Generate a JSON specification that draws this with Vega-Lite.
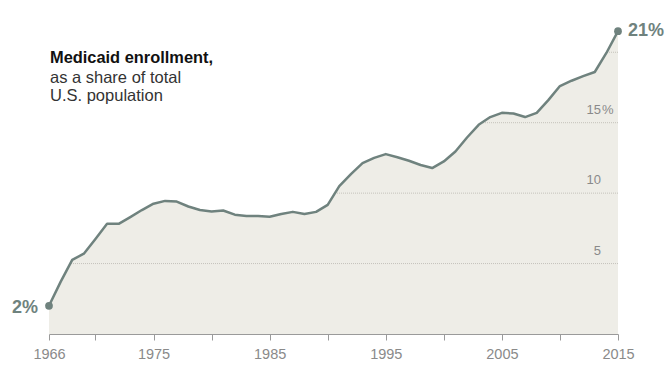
{
  "$schema": "https://vega.github.io/schema/vega-lite/v6.json",
  "width": 569,
  "height": 324,
  "autosize": "none",
  "padding": {"left": 49, "top": 10, "right": 54, "bottom": 35},
  "background": "white",
  "config": {"view": {"stroke": null}, "font": "Liberation Sans"},
  "datasets": {
    "enroll": [
      {"year": 1966, "value": 2.0}, {"year": 1967, "value": 3.7}, {"year": 1968, "value": 5.26},
      {"year": 1969, "value": 5.7}, {"year": 1970, "value": 6.75}, {"year": 1971, "value": 7.82},
      {"year": 1972, "value": 7.82}, {"year": 1973, "value": 8.3}, {"year": 1974, "value": 8.8},
      {"year": 1975, "value": 9.25}, {"year": 1976, "value": 9.45}, {"year": 1977, "value": 9.4},
      {"year": 1978, "value": 9.05}, {"year": 1979, "value": 8.8}, {"year": 1980, "value": 8.7},
      {"year": 1981, "value": 8.77}, {"year": 1982, "value": 8.47}, {"year": 1983, "value": 8.38},
      {"year": 1984, "value": 8.38}, {"year": 1985, "value": 8.32}, {"year": 1986, "value": 8.52},
      {"year": 1987, "value": 8.67}, {"year": 1988, "value": 8.52}, {"year": 1989, "value": 8.67},
      {"year": 1990, "value": 9.17}, {"year": 1991, "value": 10.5}, {"year": 1992, "value": 11.35},
      {"year": 1993, "value": 12.13}, {"year": 1994, "value": 12.5}, {"year": 1995, "value": 12.77},
      {"year": 1996, "value": 12.55}, {"year": 1997, "value": 12.3}, {"year": 1998, "value": 12.0},
      {"year": 1999, "value": 11.78}, {"year": 2000, "value": 12.25}, {"year": 2001, "value": 12.96},
      {"year": 2002, "value": 13.95}, {"year": 2003, "value": 14.85}, {"year": 2004, "value": 15.4},
      {"year": 2005, "value": 15.7}, {"year": 2006, "value": 15.65}, {"year": 2007, "value": 15.4},
      {"year": 2008, "value": 15.7}, {"year": 2009, "value": 16.6}, {"year": 2010, "value": 17.6},
      {"year": 2011, "value": 17.98}, {"year": 2012, "value": 18.3}, {"year": 2013, "value": 18.6},
      {"year": 2014, "value": 19.95}, {"year": 2015, "value": 21.5}
    ],
    "grid": [
      {"v": 5, "label": "5", "unit": ""},
      {"v": 10, "label": "10", "unit": ""},
      {"v": 15, "label": "15", "unit": "%"},
      {"v": 20, "label": "", "unit": ""}
    ],
    "ends": [
      {"year": 1966, "value": 2.0, "label": "2%"},
      {"year": 2015, "value": 21.5, "label": "21%"}
    ],
    "notes": [
      {"kind": "title", "year": 1966, "value": 19.22, "text": "Medicaid enrollment,"},
      {"kind": "sub", "year": 1966, "value": 17.8, "text": "as a share of total"},
      {"kind": "sub", "year": 1966, "value": 16.52, "text": "U.S. population"}
    ]
  },
  "layer": [
    {
      "data": {"name": "enroll"},
      "mark": {"type": "area", "color": "#eeede7"},
      "encoding": {
        "x": {
          "field": "year", "type": "quantitative",
          "scale": {"domain": [1966, 2015], "nice": false, "zero": false},
          "axis": {
            "values": [1966, 1970, 1975, 1980, 1985, 1990, 1995, 2000, 2005, 2010, 2015],
            "labelExpr": "datum.value == 1966 || datum.value % 10 == 5 ? datum.value : ''",
            "title": null, "grid": false,
            "domainColor": "#9a9a9a", "tickColor": "#9a9a9a", "tickSize": 6,
            "labelColor": "#8a8a8a", "labelFontSize": 14.5, "labelPadding": 7,
            "labelFlush": false, "labelOverlap": false, "labelFont": "Liberation Sans"
          }
        },
        "y": {
          "field": "value", "type": "quantitative",
          "scale": {"domain": [0, 23], "nice": false},
          "axis": null
        }
      }
    },
    {
      "data": {"name": "grid"},
      "mark": {"type": "rule", "color": "#c4c2bb", "strokeWidth": 1, "strokeDash": [1, 1]},
      "encoding": {
        "y": {"field": "v", "type": "quantitative"},
        "x": {"datum": 1966},
        "x2": {"datum": 2015}
      }
    },
    {
      "data": {"name": "enroll"},
      "mark": {"type": "area", "color": "white"},
      "encoding": {
        "x": {"field": "year", "type": "quantitative"},
        "y": {"field": "value", "type": "quantitative"},
        "y2": {"datum": 23}
      }
    },
    {
      "data": {"name": "grid"},
      "mark": {"type": "text", "align": "right", "baseline": "alphabetic", "dx": -17, "dy": -9, "fontSize": 13, "color": "#8a8a8a"},
      "encoding": {
        "y": {"field": "v", "type": "quantitative"},
        "x": {"datum": 2015},
        "text": {"field": "label"}
      }
    },
    {
      "data": {"name": "grid"},
      "mark": {"type": "text", "align": "left", "baseline": "alphabetic", "dx": -16, "dy": -9, "fontSize": 13, "color": "#8a8a8a"},
      "encoding": {
        "y": {"field": "v", "type": "quantitative"},
        "x": {"datum": 2015},
        "text": {"field": "unit"}
      }
    },
    {
      "data": {"name": "enroll"},
      "mark": {"type": "line", "color": "#6f827e", "strokeWidth": 2.5, "strokeJoin": "round"},
      "encoding": {
        "x": {"field": "year", "type": "quantitative"},
        "y": {"field": "value", "type": "quantitative"}
      }
    },
    {
      "data": {"name": "ends"},
      "mark": {"type": "point", "filled": true, "opacity": 1, "size": 60, "color": "#6f827e"},
      "encoding": {
        "x": {"field": "year", "type": "quantitative"},
        "y": {"field": "value", "type": "quantitative"}
      }
    },
    {
      "data": {"name": "ends"},
      "transform": [{"filter": "datum.year == 1966"}],
      "mark": {"type": "text", "align": "right", "baseline": "middle", "dx": -11, "dy": 2, "fontSize": 18, "fontWeight": "bold", "color": "#6f827e"},
      "encoding": {
        "x": {"field": "year", "type": "quantitative"},
        "y": {"field": "value", "type": "quantitative"},
        "text": {"field": "label"}
      }
    },
    {
      "data": {"name": "ends"},
      "transform": [{"filter": "datum.year == 2015"}],
      "mark": {"type": "text", "align": "left", "baseline": "middle", "dx": 10, "dy": 0, "fontSize": 18, "fontWeight": "bold", "color": "#6f827e"},
      "encoding": {
        "x": {"field": "year", "type": "quantitative"},
        "y": {"field": "value", "type": "quantitative"},
        "text": {"field": "label"}
      }
    },
    {
      "data": {"name": "notes"},
      "transform": [{"filter": "datum.kind == 'title'"}],
      "mark": {"type": "text", "align": "left", "baseline": "alphabetic", "dx": 1, "fontSize": 16.4, "fontWeight": "bold", "color": "#111111"},
      "encoding": {
        "x": {"field": "year", "type": "quantitative"},
        "y": {"field": "value", "type": "quantitative"},
        "text": {"field": "text"}
      }
    },
    {
      "data": {"name": "notes"},
      "transform": [{"filter": "datum.kind == 'sub'"}],
      "mark": {"type": "text", "align": "left", "baseline": "alphabetic", "dx": 1, "fontSize": 16.5, "color": "#333333"},
      "encoding": {
        "x": {"field": "year", "type": "quantitative"},
        "y": {"field": "value", "type": "quantitative"},
        "text": {"field": "text"}
      }
    }
  ]
}
